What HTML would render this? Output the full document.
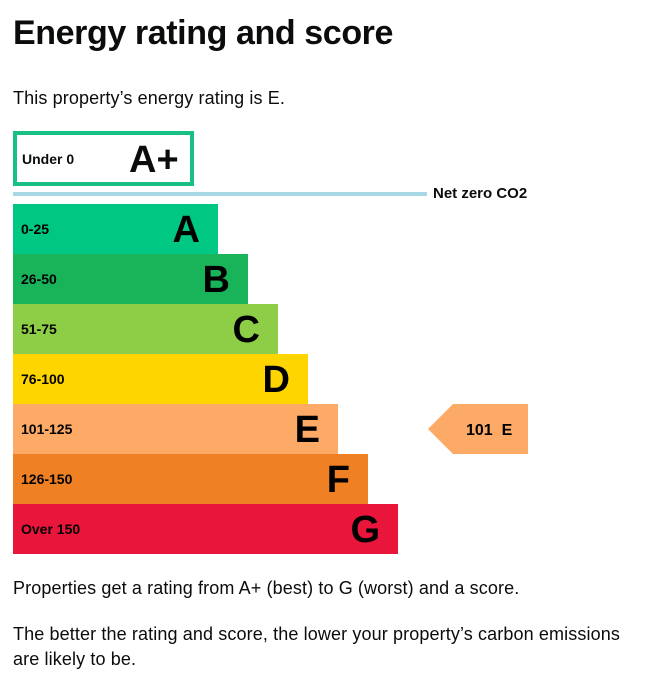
<!DOCTYPE html>
<html><head><meta charset="utf-8"><style>
body{margin:0;width:649px;height:684px;background:#fff;font-family:"Liberation Sans",Arial,sans-serif;color:#0b0c0c;position:relative;overflow:hidden}
.a{position:absolute}
h1{position:absolute;left:13px;top:14px;margin:0;font-size:34px;font-weight:bold;letter-spacing:-0.4px}
.p{position:absolute;left:13px;font-size:18px;line-height:25px;letter-spacing:0.12px}
.bar{position:absolute;left:13px;height:50px}
.bar .r{position:absolute;left:8px;top:17px;font-size:14px;font-weight:bold;color:#000}
.bar .l{position:absolute;right:18px;top:5px;font-size:38px;font-weight:bold;color:#000;line-height:42px}
</style></head><body>
<h1>Energy rating and score</h1>
<div class="p" style="top:86px">This property’s energy rating is E.</div>
<div class="a" style="left:13px;top:131px;width:173px;height:47px;border:4px solid #19c084;background:#fff">
<span class="a" style="left:5px;top:16px;font-size:14px;font-weight:bold">Under 0</span>
<span class="a" style="left:112px;top:4px;font-size:38px;font-weight:bold;line-height:42px">A+</span></div>
<div class="a" style="left:13px;top:192px;width:414px;height:4px;background:#a8d8e6"></div>
<div class="a" style="left:433px;top:185px;font-size:15px;font-weight:bold">Net zero CO2</div>
<div class="bar" style="top:204px;width:205px;background:#00c781"><span class="r">0-25</span><span class="l">A</span></div>
<div class="bar" style="top:254px;width:235px;background:#19b459"><span class="r">26-50</span><span class="l">B</span></div>
<div class="bar" style="top:304px;width:265px;background:#8dce46"><span class="r">51-75</span><span class="l">C</span></div>
<div class="bar" style="top:354px;width:295px;background:#ffd500"><span class="r">76-100</span><span class="l">D</span></div>
<div class="bar" style="top:404px;width:325px;background:#fcaa65"><span class="r">101-125</span><span class="l">E</span></div>
<div class="bar" style="top:454px;width:355px;background:#ef8023"><span class="r">126-150</span><span class="l">F</span></div>
<div class="bar" style="top:504px;width:385px;background:#e9153b"><span class="r">Over 150</span><span class="l">G</span></div>
<svg class="a" style="left:428px;top:404px" width="100" height="50"><polygon points="0,25 25,0 100,0 100,50 25,50" fill="#fcaa65"/>
<text x="38" y="31" font-family="Liberation Sans,Arial,sans-serif" font-size="16" font-weight="bold" fill="#000" xml:space="preserve">101  E</text></svg>
<div class="p" style="top:576px">Properties get a rating from A+ (best) to G (worst) and a score.</div>
<div class="p" style="top:622px">The better the rating and score, the lower your property’s carbon emissions<br>are likely to be.</div>
</body></html>
